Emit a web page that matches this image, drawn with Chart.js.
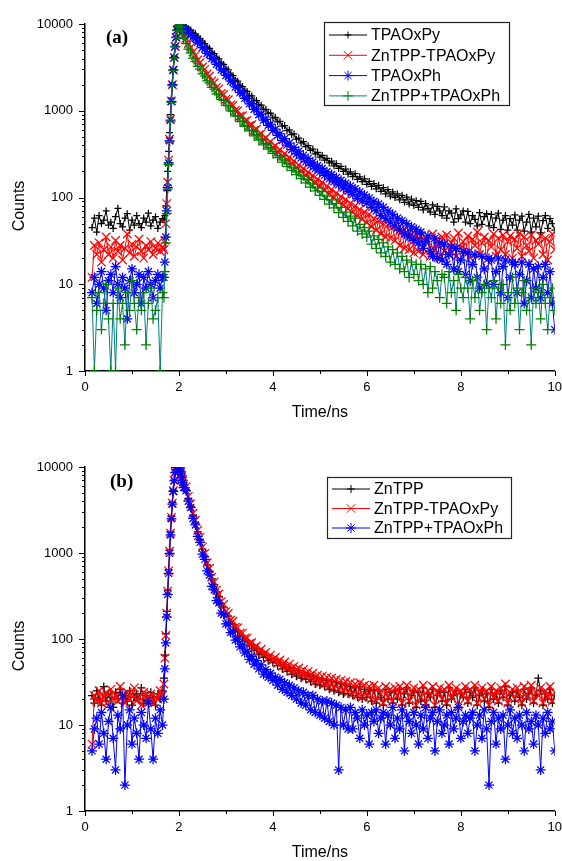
<!DOCTYPE html>
<html>
<head>
<meta charset="utf-8">
<script src="https://cdn.jsdelivr.net/npm/chart.js@4.4.0/dist/chart.umd.min.js"></script>
<style>
    html, body { margin: 0; padding: 0; background: #fff; }
    #pagina { position: relative; width: 562px; height: 861px; overflow: hidden; }
    .painel { position: absolute; left: 0; width: 562px; height: 430px; }
    #painelA { top: 0; }
    #painelB { top: 431px; }
</style>
</head>
<body>
<div id="pagina">
    <div class="painel" id="painelA"><canvas id="graficoA"></canvas></div>
    <div class="painel" id="painelB"><canvas id="graficoB"></canvas></div>
</div>
<script>
// tempo (ns): linha de base, subida e decaimento
const tempoNs = [
    0.15, 0.2, 0.25, 0.3, 0.35, 0.4, 0.45, 0.5, 0.55, 0.6,
    0.65, 0.7, 0.75, 0.8, 0.85, 0.9, 0.95, 1.0, 1.05, 1.1,
    1.15, 1.2, 1.25, 1.3, 1.35, 1.4, 1.45, 1.5, 1.55, 1.6,
    1.65,
    1.68, 1.7, 1.72, 1.74, 1.76, 1.78, 1.8, 1.82, 1.84, 1.86,
    1.88, 1.9, 1.92, 1.94, 1.96, 1.98, 2.0, 2.02, 2.04, 2.06,
    2.08, 2.1,
    2.15, 2.2, 2.25, 2.3, 2.35, 2.4, 2.45, 2.5, 2.55, 2.6,
    2.65, 2.7, 2.75, 2.8, 2.85, 2.9, 2.95, 3.0, 3.05, 3.1,
    3.15, 3.2, 3.25, 3.3, 3.35, 3.4, 3.45, 3.5, 3.55, 3.6,
    3.65, 3.7, 3.75, 3.8, 3.85, 3.9, 3.95, 4.0, 4.05, 4.1,
    4.15, 4.2, 4.25, 4.3, 4.35, 4.4, 4.45, 4.5, 4.55, 4.6,
    4.65, 4.7, 4.75, 4.8, 4.85, 4.9, 4.95, 5.0, 5.05, 5.1,
    5.15, 5.2, 5.25, 5.3, 5.35, 5.4, 5.45, 5.5, 5.55, 5.6,
    5.65, 5.7, 5.75, 5.8, 5.85, 5.9, 5.95, 6.0, 6.05, 6.1,
    6.15, 6.2, 6.25, 6.3, 6.35, 6.4, 6.45, 6.5, 6.55, 6.6,
    6.65, 6.7, 6.75, 6.8, 6.85, 6.9, 6.95, 7.0, 7.05, 7.1,
    7.15, 7.2, 7.25, 7.3, 7.35, 7.4, 7.45, 7.5, 7.55, 7.6,
    7.65, 7.7, 7.75, 7.8, 7.85, 7.9, 7.95, 8.0, 8.05, 8.1,
    8.15, 8.2, 8.25, 8.3, 8.35, 8.4, 8.45, 8.5, 8.55, 8.6,
    8.65, 8.7, 8.75, 8.8, 8.85, 8.9, 8.95, 9.0, 9.05, 9.1,
    9.15, 9.2, 9.25, 9.3, 9.35, 9.4, 9.45, 9.5, 9.55, 9.6,
    9.65, 9.7, 9.75, 9.8, 9.85, 9.9, 9.95, 10.0
];

// painel (a)
const tpaoxpyA = [
    45, 58, 40, 62, 50, 55, 70, 48, 52, 44, 60, 75, 50, 46, 58, 65, 42, 55, 48, 62,
    50, 45, 58, 52, 66, 47, 55, 60, 44, 52, 57,
    55, 62, 80, 120, 200, 340, 560, 900, 1400, 2100, 3000, 4200, 5600, 7100, 8600, 9700,
    10500, 10700, 10500, 10200, 9900, 9500,
    9350, 8800, 8500, 7950, 7700, 7050, 6800, 6200, 5950, 5400,
    5250, 4700, 4550, 4100, 3950, 3550, 3420, 3050, 2960, 2620,
    2540, 2250, 2190, 1950, 1900, 1700, 1670, 1490, 1480, 1320,
    1310, 1170, 1160, 1040, 1040, 930, 940, 830, 840, 745,
    755, 665, 675, 590, 600, 530, 540, 470, 485, 425,
    440, 385, 395, 350, 362, 318, 332, 292, 305, 270,
    283, 250, 262, 232, 245, 216, 228, 200, 213, 186,
    198, 174, 188, 162, 173, 152, 164, 142, 153, 134,
    145, 126, 138, 118, 130, 110, 123, 104, 116, 100,
    110, 94, 106, 88, 101, 84, 96, 81, 92, 77,
    90, 72, 85, 75, 68, 82, 64, 79, 70, 62,
    78, 58, 70, 66, 52, 74, 57, 63, 70, 52,
    69, 50, 62, 56, 47, 67, 49, 60, 65, 47,
    64, 45, 58, 66, 43, 55, 62, 42, 57, 48,
    63, 42, 55, 61, 41, 52, 64, 40, 58, 46,
    61, 39, 54, 62, 44, 57, 50, 42
];
const zntppTpaoxpyA = [
    12, 28, 22, 30, 18, 25, 35, 22, 27, 20, 32, 24, 28, 19, 26, 38, 23, 29, 21, 27,
    33, 24, 20, 28, 25, 31, 22, 26, 30, 24, 27,
    25, 32, 50, 85, 150, 270, 470, 800, 1300, 2000, 2950, 4100, 5500, 7000, 8500, 9600,
    10400, 10300, 9600, 8900, 8200, 7500,
    6850, 5950, 5400, 4750, 4350, 3850, 3600, 3200, 3000, 2650,
    2500, 2210, 2100, 1860, 1790, 1580, 1540, 1360, 1340, 1170,
    1150, 1010, 1000, 870, 875, 760, 775, 675, 690, 595,
    612, 528, 545, 468, 488, 418, 440, 375, 395, 335,
    356, 302, 322, 270, 292, 244, 264, 220, 238, 198,
    216, 178, 196, 161, 180, 146, 164, 133, 150, 121,
    136, 109, 124, 99, 113, 89, 103, 82, 95, 74,
    86, 67, 80, 61, 73, 56, 68, 51, 64, 46,
    57, 42, 54, 38, 50, 35, 48, 34, 46, 32,
    44, 28, 41, 26, 39, 25, 38, 23, 37, 24,
    36, 22, 34, 31, 21, 38, 25, 33, 20, 35,
    24, 37, 22, 30, 34, 21, 39, 26, 31, 23,
    36, 20, 33, 28, 40, 22, 30, 35, 19, 32,
    27, 38, 21, 34, 25, 37, 22, 31, 36, 20,
    33, 26, 39, 21, 35, 28, 24, 37, 20, 32,
    29, 36, 22, 34, 19, 31, 38, 25
];
const tpaoxphA = [
    8, 12, 6, 10, 14, 9, 5, 11, 13, 8, 16, 10, 7, 12, 9, 4, 11, 15, 8, 10,
    13, 6, 12, 9, 14, 10, 7, 11, 13, 9, 12,
    12, 18, 35, 70, 130, 250, 450, 780, 1280, 2000, 2950, 4100, 5500, 7000, 8500, 9600,
    10400, 10500, 10200, 9800, 9300, 8800,
    8450, 7900, 7700, 7100, 6800, 6150, 5950, 5350, 5150, 4600,
    4480, 3990, 3880, 3430, 3360, 2960, 2900, 2550, 2500, 2190,
    2150, 1880, 1860, 1620, 1600, 1390, 1390, 1200, 1210, 1040,
    1050, 900, 915, 780, 795, 680, 700, 595, 612, 520,
    540, 455, 478, 402, 424, 356, 378, 318, 342, 286,
    308, 258, 282, 235, 256, 214, 234, 196, 216, 180,
    198, 164, 184, 152, 170, 140, 158, 128, 146, 118,
    136, 108, 126, 98, 116, 91, 107, 86, 99, 77,
    90, 70, 84, 62, 77, 57, 70, 52, 64, 47,
    58, 42, 54, 38, 50, 35, 46, 32, 43, 30,
    40, 26, 31, 36, 24, 21, 34, 20, 30, 19,
    29, 17, 22, 27, 15, 26, 14, 19, 24, 13,
    23, 11, 17, 22, 12, 9, 21, 15, 10, 20,
    19, 10, 14, 20, 8, 16, 19, 7, 12, 18,
    17, 8, 13, 18, 6, 11, 17, 7, 15, 9,
    16, 7, 12, 17, 8, 14, 6, 3
];
const zntppTpaoxphA = [
    7, 1, 5, 8, 3, 6, 10, 4, 1, 6, 1, 9, 4, 6, 2, 8, 5, 11, 6, 3,
    7, 5, 8, 2, 6, 9, 4, 5, 7, 1, 8,
    7, 14, 30, 65, 125, 240, 440, 760, 1250, 1950, 2900, 4050, 5450, 6950, 8400, 9500,
    10300, 10000, 9200, 8300, 7500, 6800,
    5950, 5150, 4650, 4050, 3720, 3250, 3020, 2660, 2500, 2210,
    2100, 1860, 1780, 1560, 1520, 1340, 1320, 1150, 1140, 995,
    990, 865, 870, 750, 760, 660, 675, 585, 598, 515,
    530, 458, 472, 404, 420, 360, 377, 322, 340, 288,
    303, 256, 272, 229, 245, 205, 219, 184, 198, 165,
    178, 147, 161, 132, 144, 119, 129, 106, 117, 95,
    104, 84, 94, 76, 85, 67, 77, 59, 68, 53,
    61, 47, 58, 41, 49, 38, 45, 35, 41, 29,
    36, 26, 33, 23, 30, 21, 27, 18, 25, 17,
    23, 15, 21, 14, 19, 12, 18, 13, 17, 11,
    17, 10, 15, 8, 16, 9, 14, 11, 7, 13,
    12, 6, 14, 8, 11, 5, 13, 9, 7, 12,
    9, 4, 11, 7, 12, 5, 8, 10, 3, 9,
    7, 11, 4, 9, 6, 10, 2, 8, 5, 12,
    6, 9, 3, 8, 11, 5, 7, 2, 9, 6,
    8, 4, 10, 6, 3, 7, 9, 5
];

// painel (b)
const zntppB = [
    22, 18, 25, 20, 17, 28, 19, 23, 21, 16, 24, 20, 26, 18, 22, 19, 25, 17, 21, 23,
    20, 27, 18, 22, 19, 24, 21, 17, 23, 20, 25,
    35, 65, 115, 210, 370, 640, 1080, 1750, 2650, 3850, 5350, 7050, 8700, 10000, 10700, 10900,
    10500, 9800, 8900, 7900, 7000, 6200,
    5500, 4300, 3480, 2750, 2230, 1760, 1420, 1110, 915, 730,
    610, 500, 430, 352, 310, 258, 234, 196, 184, 156,
    148, 128, 124, 109, 108, 95, 96, 83, 85, 74,
    77, 66, 71, 61, 65, 56, 60, 53, 57, 49,
    53, 45, 50, 42, 47, 39, 45, 37, 43, 35,
    41, 34, 39, 32, 37, 30, 35, 29, 34, 28,
    33, 26, 32, 25, 31, 24, 30, 23, 29, 23,
    28, 22, 27, 21, 28, 20, 26, 21, 25, 19,
    26, 18, 25, 21, 17, 26, 20, 24, 18, 25,
    20, 26, 17, 23, 27, 18, 22, 25, 16, 24,
    19, 27, 17, 23, 21, 26, 16, 22, 25, 19,
    24, 17, 27, 20, 22, 25, 16, 23, 21, 26,
    18, 24, 21, 27, 17, 22, 25, 19, 23, 16,
    26, 20, 23, 18, 25, 21, 28, 17, 22, 24,
    19, 25, 21, 17, 26, 20, 23, 27, 18, 22,
    35, 25, 17, 23, 20, 26, 18, 22
];
const zntppTpaoxpyB = [
    6, 22, 19, 25, 18, 21, 24, 17, 26, 20, 22, 19, 28, 21, 18, 24, 20, 23, 27, 19,
    21, 17, 24, 22, 19, 23, 18, 21, 20, 25, 22,
    30, 60, 110, 200, 360, 620, 1050, 1700, 2600, 3800, 5300, 7000, 8700, 10000, 10800, 11000,
    10600, 9900, 9000, 8000, 7100, 6300,
    5850, 4550, 3750, 2900, 2400, 1840, 1530, 1170, 990, 770,
    665, 525, 462, 370, 334, 272, 252, 208, 198, 166,
    161, 137, 135, 117, 117, 102, 103, 89, 91, 79,
    83, 71, 76, 66, 70, 60, 65, 57, 61, 52,
    57, 48, 54, 45, 51, 42, 48, 40, 46, 38,
    44, 36, 42, 34, 40, 32, 38, 31, 37, 30,
    36, 28, 35, 27, 34, 26, 33, 25, 32, 24,
    31, 23, 30, 22, 31, 21, 29, 22, 28, 20,
    29, 19, 27, 23, 18, 28, 21, 26, 19, 27,
    22, 28, 18, 25, 29, 19, 24, 27, 17, 26,
    21, 29, 18, 25, 22, 28, 17, 24, 27, 20,
    26, 18, 29, 21, 24, 27, 17, 25, 22, 28,
    19, 26, 23, 29, 18, 24, 27, 20, 25, 17,
    28, 21, 25, 19, 27, 22, 30, 18, 24, 26,
    20, 27, 23, 18, 28, 21, 25, 29, 19, 24,
    22, 27, 18, 25, 21, 28, 19, 24
];
const zntppTpaoxphB = [
    5, 9, 12, 6, 14, 8, 4, 11, 16, 7, 3, 13, 9, 22, 2, 10, 15, 6, 12, 8,
    4, 14, 10, 7, 18, 9, 4, 12, 8, 15, 10,
    20, 45, 90, 180, 330, 580, 990, 1620, 2500, 3700, 5200, 6900, 8600, 9900, 10700, 10800,
    10300, 9500, 8500, 7500, 6600, 5800,
    5300, 4000, 3380, 2520, 2120, 1560, 1330, 970, 845, 620,
    555, 410, 372, 280, 263, 200, 193, 150, 150, 119,
    121, 97, 100, 81, 85, 69, 72, 58, 63, 51,
    56, 45, 50, 39, 44, 36, 40, 33, 36, 29,
    34, 26, 31, 24, 29, 22, 27, 20, 25, 18,
    24, 17, 22, 15, 22, 14, 20, 13, 19, 12,
    19, 11, 18, 10, 17, 3, 16, 10, 15, 9,
    16, 9, 14, 12, 7, 15, 10, 13, 6, 14,
    11, 15, 8, 12, 14, 6, 13, 10, 16, 7,
    12, 9, 15, 5, 13, 11, 8, 14, 10, 6,
    13, 9, 16, 7, 12, 14, 5, 11, 15, 8,
    10, 13, 6, 14, 9, 12, 16, 7, 11, 13,
    8, 12, 14, 5, 10, 13, 7, 15, 9, 2,
    11, 14, 6, 12, 9, 13, 4, 10, 15, 8,
    12, 7, 13, 10, 5, 14, 9, 11, 6, 13,
    10, 3, 12, 8, 14, 9, 11, 5
];

const rotulosA = ["TPAOxPy", "ZnTPP-TPAOxPy", "TPAOxPh", "ZnTPP+TPAOxPh"];
const rotulosB = ["ZnTPP", "ZnTPP-TPAOxPy", "ZnTPP+TPAOxPh"];
const ticksY = [1, 10, 100, 1000, 10000];
const ticksX = [0, 2, 4, 6, 8, 10];

const estilosA = [
    { linha: "#000000", cor: "#000000", marcador: "cross", raio: 3.5, ordem: 4 },
    { linha: "#ff0000", cor: "#ff0000", marcador: "crossRot", raio: 6, ordem: 3 },
    { linha: "#0000ff", cor: "#0000ff", marcador: "star", raio: 5, ordem: 2 },
    { linha: "#008080", cor: "#008000", marcador: "cross", raio: 5, ordem: 1 }
];
const estilosB = [
    { linha: "#000000", cor: "#000000", marcador: "cross", raio: 4, ordem: 3 },
    { linha: "#ff0000", cor: "#ff0000", marcador: "crossRot", raio: 6, ordem: 2 },
    { linha: "#0000ff", cor: "#0000ff", marcador: "star", raio: 5, ordem: 1 }
];

Chart.defaults.font.family = "'Liberation Sans', Arial, sans-serif";
Chart.defaults.font.size = 13;
Chart.defaults.color = "#000";

function criarSerie(rotulo, valores, estilo) {
    return {
        label: rotulo,
        data: tempoNs.map((t, i) => ({ x: t, y: valores[i] })),
        borderColor: estilo.linha,
        borderWidth: 1,
        pointStyle: estilo.marcador,
        pointRadius: estilo.raio,
        pointBorderColor: estilo.cor,
        pointBackgroundColor: estilo.cor,
        pointBorderWidth: 1.25,
        tension: 0,
        order: estilo.ordem
    };
}

function desenharMarcador(ctx, estilo, x, y) {
    const r = estilo.raio;
    ctx.beginPath();
    if (estilo.marcador === "cross" || estilo.marcador === "star") {
        ctx.moveTo(x - r, y); ctx.lineTo(x + r, y);
        ctx.moveTo(x, y - r); ctx.lineTo(x, y + r);
    }
    if (estilo.marcador === "crossRot" || estilo.marcador === "star") {
        const d = r * Math.SQRT1_2;
        ctx.moveTo(x - d, y - d); ctx.lineTo(x + d, y + d);
        ctx.moveTo(x - d, y + d); ctx.lineTo(x + d, y - d);
    }
    ctx.stroke();
}

// marcas dos eixos, titulos dos eixos, rotulo do painel e legenda
function criarDecoracao(config) {
    return {
        id: "decoracao",
        afterDraw(chart) {
            const ctx = chart.ctx;
            const area = chart.chartArea;
            const escalaX = chart.scales.x;
            const escalaY = chart.scales.y;
            ctx.save();

            ctx.strokeStyle = "#000";
            ctx.lineWidth = 1;
            ctx.beginPath();
            for (let v = 0; v <= 10; v++) {
                const px = Math.round(escalaX.getPixelForValue(v)) + 0.5;
                const tam = ticksX.includes(v) ? 5 : 3;
                ctx.moveTo(px, area.bottom);
                ctx.lineTo(px, area.bottom + tam);
            }
            ticksY.forEach(dec => {
                const ultimo = dec === ticksY[ticksY.length - 1];
                for (let m = 1; m <= (ultimo ? 1 : 9); m++) {
                    const py = Math.round(escalaY.getPixelForValue(m * dec)) + 0.5;
                    const tam = m === 1 ? 6 : 3;
                    ctx.moveTo(area.left, py);
                    ctx.lineTo(area.left - tam, py);
                }
            });
            ctx.stroke();

            ctx.fillStyle = "#000";
            ctx.textBaseline = "middle";
            ctx.font = "16px 'Liberation Sans', Arial, sans-serif";
            ctx.textAlign = "center";
            ctx.fillText("Time/ns", (area.left + area.right) / 2, config.tituloXY);
            ctx.save();
            ctx.translate(20, config.tituloYY);
            ctx.rotate(-Math.PI / 2);
            ctx.fillText("Counts", 0, 0);
            ctx.restore();

            ctx.font = "bold 19px 'Liberation Serif', 'Times New Roman', serif";
            ctx.textAlign = "left";
            ctx.fillText(config.painel, config.painelX, config.painelY);

            const leg = config.legenda;
            ctx.fillStyle = "#fff";
            ctx.fillRect(leg.x, leg.y, leg.largura, leg.altura);
            ctx.lineWidth = 1.2;
            ctx.strokeStyle = "#222";
            ctx.strokeRect(leg.x + 0.5, leg.y + 0.5, leg.largura, leg.altura);
            ctx.font = "16px 'Liberation Sans', Arial, sans-serif";
            config.rotulos.forEach((rotulo, i) => {
                const estilo = config.estilos[i];
                const y = leg.primeiraLinha + i * leg.passo;
                ctx.lineWidth = 1;
                ctx.strokeStyle = estilo.linha;
                ctx.beginPath();
                ctx.moveTo(leg.x + 5, y);
                ctx.lineTo(leg.x + 43, y);
                ctx.stroke();
                ctx.strokeStyle = estilo.cor;
                desenharMarcador(ctx, estilo, leg.x + 24, y);
                ctx.fillStyle = "#000";
                ctx.fillText(rotulo, leg.x + 47, y + 1);
            });
            ctx.restore();
        }
    };
}

function criarGrafico(ctx, rotulos, series, estilos, topo, alturaEixoX, decoracao) {
    return new Chart(ctx, {
        type: "line",
        data: {
            datasets: series.map((valores, i) => criarSerie(rotulos[i], valores, estilos[i]))
        },
        options: {
            responsive: true,
            maintainAspectRatio: false,
            animation: false,
            events: [],
            layout: { padding: { top: topo, right: 4, left: 0, bottom: 0 } },
            plugins: { legend: { display: false }, tooltip: { enabled: false } },
            scales: {
                x: {
                    type: "linear",
                    min: 0,
                    max: 10,
                    grid: { display: false, drawTicks: true, tickLength: 5 },
                    border: { display: true, color: "#000", width: 1.5 },
                    ticks: {
                        stepSize: 1,
                        autoSkip: false,
                        maxRotation: 0,
                        padding: 4,
                        callback: v => ticksX.includes(v) ? String(v) : ""
                    },
                    afterFit: escala => {
                        escala.height = alturaEixoX;
                        escala.paddingLeft = 0;
                        escala.paddingRight = 0;
                    }
                },
                y: {
                    type: "logarithmic",
                    min: 1,
                    max: 10000,
                    grid: { display: false, drawTicks: true, tickLength: 6 },
                    border: { display: true, color: "#000", width: 1.5 },
                    ticks: {
                        autoSkip: false,
                        padding: 6,
                        callback: v => ticksY.includes(v) ? String(v) : ""
                    },
                    afterFit: escala => {
                        escala.width = 85;
                        escala.paddingTop = 0;
                        escala.paddingBottom = 0;
                    }
                }
            }
        },
        plugins: [decoracao]
    });
}

criarGrafico(
    document.querySelector("#graficoA"),
    rotulosA,
    [tpaoxpyA, zntppTpaoxpyA, tpaoxphA, zntppTpaoxphA],
    estilosA, 24, 59,
    criarDecoracao({
        painel: "(a)", painelX: 106, painelY: 38,
        tituloXY: 413, tituloYY: 206,
        rotulos: rotulosA, estilos: estilosA,
        legenda: { x: 324, y: 22, largura: 185, altura: 83, primeiraLinha: 35, passo: 20.3 }
    })
);

criarGrafico(
    document.querySelector("#graficoB"),
    rotulosB,
    [zntppB, zntppTpaoxpyB, zntppTpaoxphB],
    estilosB, 36, 50,
    criarDecoracao({
        painel: "(b)", painelX: 110, painelY: 51,
        tituloXY: 422, tituloYY: 215,
        rotulos: rotulosB, estilos: estilosB,
        legenda: { x: 327, y: 46, largura: 184, altura: 61, primeiraLinha: 58, passo: 19.5 }
    })
);
</script>
</body>
</html>
